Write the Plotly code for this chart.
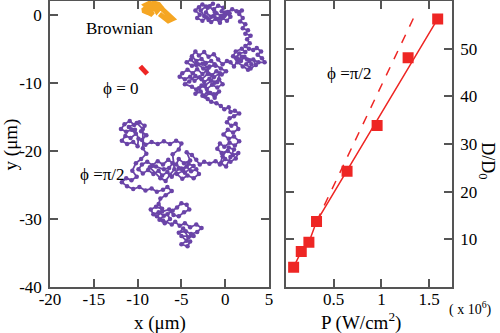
import plotly.graph_objects as go

# ---- left panel: trajectories (x, y in um)
path_top = [(0, 0), (-0.4, 0.5), (-0.2, 1.0), (-0.8, 1.3), (-1.3, 0.8), (-1.0, 0.2), (-1.6, -0.3),
            (-2.2, 0.3), (-2.0, 1.0), (-2.6, 1.5), (-3.0, 1.1), (-3.4, 0.6), (-2.9, 0.0), (-3.2, -0.5),
            (-2.6, -0.9), (-2.1, -0.4), (-1.6, -1.1), (-1.1, -0.6), (-0.6, -1.2), (-0.3, -0.5),
            (0.2, -0.9), (0.6, -0.3), (0.0, 0.3), (-0.5, -0.2), (-1.2, 0.4), (-1.8, 1.2), (-1.4, 1.6),
            (-2.2, 1.2), (-2.8, 0.6), (-2.4, -0.2), (-1.9, -0.8), (-1.3, -0.2), (-0.7, -0.6),
            (-0.1, -0.2), (0.5, 0.2), (0.3, 0.4), (0.8, 0.8), (1.3, 0.5), (1.9, 0.6), (1.6, 0.1),
            (2.0, -0.5), (1.7, -1.0), (2.3, -1.4), (2.0, -2.0), (2.6, -2.3), (2.3, -2.8), (2.9, -3.1),
            (2.5, -3.6), (2.8, -4.2), (2.3, -4.6), (2.7, -5.0)]
path_c2 = [(3.2, -5.2), (3.6, -4.9), (4.1, -5.4), (3.7, -5.9), (4.2, -6.4), (4.5, -7.0), (3.8, -7.0),
           (3.2, -6.6), (3.5, -7.4), (2.9, -7.9), (2.4, -7.3), (2.8, -6.7), (2.2, -6.2), (1.8, -6.8),
           (1.3, -6.3), (1.6, -5.7), (2.3, -5.5), (1.9, -5.0), (1.2, -5.4), (0.9, -6.1), (1.4, -7.0),
           (2.0, -7.6), (2.6, -8.1), (3.0, -7.3), (2.5, -6.6), (1.9, -6.2), (1.5, -6.6),
           (1.0, -7.6), (0.6, -7.0), (0.2, -6.8), (-0.3, -7.3)]
path_c3 = [(-0.8, -6.6), (-1.3, -5.8), (-1.9, -6.2), (-2.4, -5.5), (-3.0, -6.0), (-3.4, -5.4),
           (-3.8, -6.1), (-3.3, -6.8), (-2.7, -6.5), (-2.2, -7.1), (-1.6, -6.8), (-1.1, -7.5),
           (-1.8, -7.6), (-2.5, -7.9), (-3.1, -7.3), (-3.8, -7.5), (-4.4, -7.0), (-3.9, -6.6),
           (-3.3, -7.4), (-2.6, -7.2), (-1.9, -7.8), (-1.2, -7.3),
           (-0.5, -7.9), (0.1, -8.3), (-0.4, -8.8), (-1.0, -8.3), (-1.5, -8.9), (-2.1, -8.2),
           (-2.6, -8.7), (-3.2, -8.0), (-3.7, -8.6), (-4.3, -8.1), (-4.9, -8.6), (-5.2, -9.1),
           (-4.6, -9.5), (-4.0, -9.1), (-3.5, -9.7), (-2.9, -9.2), (-2.4, -9.9), (-1.8, -9.4),
           (-1.2, -10.0), (-0.7, -9.5), (-0.3, -10.2), (-0.9, -10.7), (-1.5, -10.3), (-2.1, -10.9),
           (-2.7, -10.4), (-3.3, -11.0), (-3.8, -10.6), (-4.6, -10.2), (-4.1, -9.8), (-3.4, -9.0),
           (-2.7, -9.5), (-2.0, -8.7), (-1.3, -9.2), (-0.6, -8.6), (-0.9, -9.9), (-1.6, -9.7),
           (-2.3, -10.4), (-3.0, -10.8), (-3.4, -11.6), (-2.8, -11.3), (-2.3, -12.0),
           (-1.7, -11.5), (-1.2, -12.2), (-0.7, -11.3), (-1.3, -11.7), (-2.0, -11.4), (-2.6, -11.9),
           (-2.0, -12.4), (-1.6, -12.8), (-1.0, -13.0), (-0.5, -13.4), (-0.1, -13.9),
           (0.4, -13.6), (0.6, -14.3), (1.1, -14.1), (1.6, -14.5), (1.0, -14.9), (0.5, -15.2)]
path_c4 = [(0.2, -15.8), (0.7, -16.3), (1.2, -16.0), (1.5, -16.8), (0.9, -17.3), (0.3, -16.9),
           (-0.2, -17.6), (0.4, -18.2), (1.0, -17.9), (1.6, -18.6), (1.1, -19.2), (0.5, -18.8),
           (-0.1, -19.4), (-0.6, -18.9), (-0.9, -19.7), (-0.4, -20.3), (0.3, -20.0), (0.9, -20.6),
           (1.5, -20.3), (1.2, -21.1), (0.6, -21.6), (0.0, -21.2), (-0.5, -21.8), (0.1, -22.3),
           (0.6, -20.9), (1.0, -19.8), (0.4, -19.5), (-0.3, -20.8),
           (-0.6, -22.0), (-1.1, -21.5), (-1.8, -21.9), (-2.4, -21.6), (-2.9, -22.0)]
path_c6 = [(-3.3, -21.3), (-3.8, -20.6), (-4.4, -20.2), (-4.0, -21.4), (-4.7, -21.8), (-5.3, -21.2),
           (-5.6, -22.0), (-5.0, -22.6), (-4.4, -22.3), (-3.9, -23.0), (-3.3, -22.7), (-3.0, -23.4),
           (-3.6, -24.0), (-4.3, -23.6), (-4.9, -24.1), (-5.5, -23.4), (-4.8, -22.9), (-4.2, -21.9),
           (-3.6, -22.2), (-4.6, -23.2), (-5.3, -22.6), (-6.1, -23.8), (-6.6, -23.1),
           (-7.2, -23.6), (-7.6, -22.9), (-8.2, -23.4), (-8.8, -22.8), (-9.4, -23.3), (-9.9, -22.7),
           (-9.5, -22.0), (-8.9, -21.6), (-8.3, -22.1), (-7.7, -21.5), (-7.1, -22.0), (-6.5, -21.3),
           (-6.0, -21.8), (-6.4, -22.5), (-7.0, -22.7), (-7.9, -22.3), (-8.6, -22.4), (-7.4, -24.0),
           (-6.8, -24.4), (-6.3, -23.5), (-5.8, -22.7),
           (-6.0, -20.5), (-5.3, -19.8), (-5.0, -18.9), (-5.6, -18.5),
           (-6.3, -19.0), (-7.0, -18.6), (-7.7, -19.0), (-8.4, -18.7), (-9.1, -19.1)]
path_c5 = [(-9.5, -18.4), (-9.0, -17.7), (-9.6, -17.1), (-9.2, -16.3), (-9.8, -15.8), (-10.4, -16.2),
           (-10.9, -15.6), (-11.5, -16.1), (-11.9, -16.8), (-11.3, -17.2), (-10.7, -16.9),
           (-10.2, -17.5), (-10.8, -18.1), (-11.4, -17.8), (-11.8, -18.5), (-11.2, -19.0),
           (-10.5, -18.7), (-10.0, -19.3), (-9.9, -18.2), (-10.3, -16.9), (-11.0, -16.5),
           (-10.1, -15.9), (-9.4, -16.8), (-9.4, -19.6), (-9.0, -20.4), (-9.6, -21.2), (-10.2, -21.8),
           (-10.6, -22.9), (-10.1, -23.8), (-10.7, -24.3), (-11.3, -24.0), (-11.8, -24.6),
           (-11.2, -25.2), (-10.5, -25.6), (-9.8, -25.3), (-9.1, -25.8), (-8.4, -25.5), (-7.8, -26.0),
           (-7.1, -25.7), (-6.6, -25.3), (-6.1, -25.9), (-6.8, -26.5), (-7.4, -27.0), (-7.6, -27.8),
           (-7.2, -28.5)]
path_c7 = [(-7.9, -28.2), (-8.5, -28.6), (-8.2, -29.3), (-7.6, -29.0), (-7.0, -29.5), (-7.5, -30.1),
           (-6.9, -30.6), (-6.3, -30.0), (-6.6, -29.3), (-6.0, -28.8), (-5.5, -28.3), (-5.0, -27.7),
           (-4.4, -27.9), (-4.1, -28.6), (-4.7, -29.0), (-5.3, -29.6), (-5.9, -29.4), (-6.4, -28.6),
           (-7.2, -28.9), (-7.8, -29.6), (-7.1, -30.2), (-6.1, -30.8), (-5.7, -30.4), (-5.2, -31.0),
           (-4.6, -30.6), (-4.0, -31.2), (-3.3, -30.8), (-2.7, -31.3), (-3.2, -31.9), (-3.9, -32.2),
           (-4.5, -31.8), (-5.3, -32.0), (-4.8, -31.4), (-4.2, -32.7), (-3.6, -32.5),
           (-5.0, -32.5), (-4.4, -33.2), (-5.0, -33.7), (-4.3, -34.0), (-4.0, -33.3)]

brownian_path = [(-8.0, 0.8), (-8.5, 1.3), (-9.0, 1.0), (-9.4, 0.6), (-8.8, 0.3), (-8.3, 0.0),
                 (-8.6, 0.8), (-9.1, 1.4), (-8.6, 1.7), (-8.1, 1.2),
                 (-7.8, 0.5), (-7.4, 1.1), (-7.9, 1.6), (-8.4, 1.8), (-7.6, 1.5), (-7.1, 0.7),
                 (-6.7, 0.2), (-6.3, -0.2), (-6.0, -0.6), (-6.5, -0.9), (-7.0, -0.4), (-7.5, 0.1)]
phi0_path = [(-9.7, -7.6), (-9.4, -8.0), (-9.1, -8.4), (-8.9, -8.7)]

# ---- right panel: D/D0 vs P (x 10^6 W/cm^2)
power = [0.08, 0.16, 0.24, 0.32, 0.64, 0.955, 1.28, 1.59]
d_ratio = [4.2, 7.5, 9.4, 13.75, 24.3, 33.9, 48.1, 56.25]
fit_p = [0.08, 0.16, 0.24, 0.32, 1.59]
fit_d = [4.2, 7.5, 9.4, 13.75, 56.25]
theory_p = [0.32, 1.36]
theory_d = [13.75, 57.4]

left_xticks = [-20, -15, -10, -5, 0, 5]
left_yticks = [-40, -30, -20, -10, 0]
right_xticks = [0.5, 1, 1.5]
right_yticks = [10, 20, 30, 40, 50]

PURPLE = "#6a44a8"
ORANGE = "#f5a623"
RED = "#ee2624"
AXIS = "#555555"
FONT = "Liberation Serif, Times New Roman, serif"

purple_path = path_top + path_c2 + path_c3 + path_c4 + path_c6 + path_c5 + path_c7

fig = go.Figure()
fig.add_trace(go.Scatter(x=[p[0] for p in purple_path], y=[p[1] for p in purple_path],
                         mode="lines+markers", line=dict(color=PURPLE, width=1.8),
                         marker=dict(color=PURPLE, size=4.5), xaxis="x", yaxis="y"))
fig.add_trace(go.Scatter(x=[p[0] for p in brownian_path], y=[p[1] for p in brownian_path],
                         mode="lines", line=dict(color=ORANGE, width=5), xaxis="x", yaxis="y"))
fig.add_trace(go.Scatter(x=[p[0] for p in phi0_path], y=[p[1] for p in phi0_path],
                         mode="lines", line=dict(color=RED, width=5), xaxis="x", yaxis="y"))

fig.add_trace(go.Scatter(x=theory_p, y=theory_d, mode="lines",
                         line=dict(color=RED, width=1.5, dash="dash"), xaxis="x2", yaxis="y2"))
fig.add_trace(go.Scatter(x=fit_p, y=fit_d, mode="lines",
                         line=dict(color=RED, width=1.5), xaxis="x2", yaxis="y2"))
fig.add_trace(go.Scatter(x=power, y=d_ratio, mode="markers",
                         marker=dict(color=RED, symbol="square", size=11), xaxis="x2", yaxis="y2"))

ax = dict(showline=True, linecolor=AXIS, linewidth=1.5, mirror="ticks", ticks="inside",
          ticklen=8, tickwidth=1.5, tickcolor=AXIS, showgrid=False, zeroline=False,
          automargin=False, ticklabelstandoff=3,
          tickfont=dict(family=FONT, size=17, color="black"))
xax = dict(ax, ticklabelstandoff=-4)

def labels(vals):
    return [str(v) for v in vals]

fig.update_layout(
    width=500, height=333, showlegend=False,
    margin=dict(l=0, r=0, t=1, b=0),
    paper_bgcolor="white", plot_bgcolor="white",
    font=dict(family=FONT, size=16, color="black"),
    xaxis=dict(xax, domain=[0.1, 0.538], range=[-20, 5], tickvals=left_xticks,
               ticktext=labels(left_xticks), anchor="y"),
    yaxis=dict(ax, domain=[0.138, 1.0], range=[-40, 2], tickvals=left_yticks,
               ticktext=labels(left_yticks), anchor="x"),
    xaxis2=dict(xax, domain=[0.572, 0.904], range=[0, 1.74], tickvals=right_xticks,
                ticktext=labels(right_xticks), anchor="y2"),
    yaxis2=dict(ax, domain=[0.138, 1.0], range=[0, 60], tickvals=right_yticks,
                ticktext=labels(right_yticks), side="right", anchor="x2"),
)

notes = [
    dict(x=-12, y=-2.0, xref="x", yref="y", text="Brownian"),
    dict(x=-11.9, y=-10.8, xref="x", yref="y", text="ϕ = 0"),
    dict(x=-14, y=-23.5, xref="x", yref="y", text="ϕ =π/2"),
    dict(x=0.667, y=44.8, xref="x2", yref="y2", text="ϕ =π/2"),
    dict(x=0.32, y=0.03, xref="paper", yref="paper", text="x (μm)", font=dict(size=19)),
    dict(x=0.722, y=0.036, xref="paper", yref="paper", text="P (W/cm<sup>2</sup>)",
         font=dict(size=19)),
    dict(x=0.022, y=0.568, xref="paper", yref="paper", text="y (μm)", textangle=-90,
         font=dict(size=19)),
    dict(x=0.974, y=0.52, xref="paper", yref="paper", text="D/D<sub>0</sub>", textangle=90,
         font=dict(size=18)),
    dict(x=0.94, y=0.075, xref="paper", yref="paper", text="( x 10<sup>6</sup>)",
         font=dict(size=14)),
]
for n in notes:
    n.setdefault("font", dict(size=17))
    n["font"] = dict(family=FONT, color="black", **n["font"])
    fig.add_annotation(showarrow=False, xanchor="center", yanchor="middle", **n)

# the page's default body margin would push the 500x333 figure off the window
fig.write_html("out.html", config={"displayModeBar": False},
               post_script="document.body.style.margin='0';")
